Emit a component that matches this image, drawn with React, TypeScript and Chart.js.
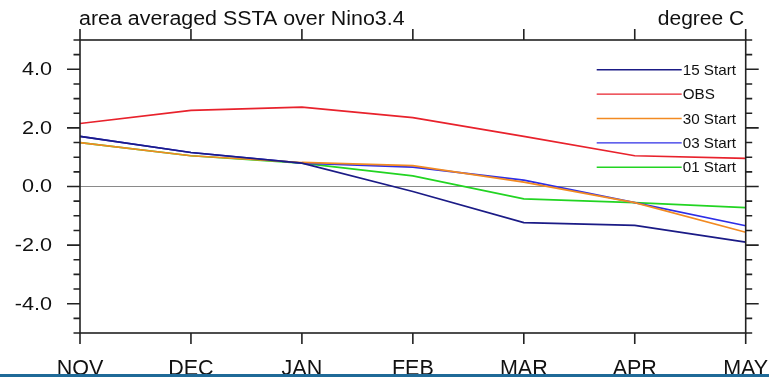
import React, { useEffect, useRef } from "react";
import { Chart, registerables } from "chart.js";

Chart.register(...registerables);

const months = ["NOV", "DEC", "JAN", "FEB", "MAR", "APR", "MAY"];
const start15 = [1.71, 1.16, 0.8, -0.17, -1.23, -1.33, -1.9];
const obs = [2.15, 2.6, 2.71, 2.35, 1.71, 1.05, 0.96];
const start30 = [1.5, 1.05, 0.82, 0.71, 0.15, -0.55, -1.56];
const start03 = [1.71, 1.16, 0.8, 0.66, 0.22, -0.55, -1.34];
const start01 = [1.5, 1.05, 0.8, 0.36, -0.42, -0.55, -0.72];
const yMajorTicks = [-4, -2, 0, 2, 4];
const yMinorStep = 0.5;
const yMin = -5;
const yMax = 5;
const titleLeft = "area averaged SSTA over Nino3.4";
const titleRight = "degree C";

const FONT = "'Liberation Sans', Arial, Helvetica, sans-serif";
const AXIS_COLOR = "#222";

function stretchText(ctx: CanvasRenderingContext2D, text: string, x: number, y: number, sx: number, align: "left" | "right" | "center") {
  const w = ctx.measureText(text).width * sx;
  let left = x;
  if (align === "right") left = x - w;
  else if (align === "center") left = x - w / 2;
  ctx.save();
  ctx.translate(left, y);
  ctx.scale(sx, 1);
  ctx.textAlign = "left";
  ctx.fillText(text, 0, 0);
  ctx.restore();
}

const framePlugin = {
  id: "ncl-frame",
  beforeDatasetsDraw(chart: any) {
    const { ctx, chartArea } = chart;
    const ys = chart.scales.y;
    const y0 = ys.getPixelForValue(0);
    ctx.save();
    ctx.strokeStyle = "#8a8a8a";
    ctx.lineWidth = 1.2;
    ctx.beginPath();
    ctx.moveTo(chartArea.left, y0);
    ctx.lineTo(chartArea.right, y0);
    ctx.stroke();
    ctx.restore();
  },
  afterDraw(chart: any) {
    const { ctx, chartArea } = chart;
    const xs = chart.scales.x;
    const ys = chart.scales.y;
    const L = chartArea.left, R = chartArea.right, T = chartArea.top, B = chartArea.bottom;
    ctx.save();
    ctx.strokeStyle = AXIS_COLOR;
    ctx.lineWidth = 1.6;
    ctx.strokeRect(L, T, R - L, B - T);
    ctx.beginPath();
    for (let v = yMin; v <= yMax + 1e-9; v += yMinorStep) {
      const py = ys.getPixelForValue(v);
      const major = yMajorTicks.some((m) => Math.abs(m - v) < 1e-9);
      const len = major ? 13 : 6.5;
      ctx.moveTo(L - len, py);
      ctx.lineTo(L, py);
      ctx.moveTo(R, py);
      ctx.lineTo(R + len, py);
    }
    months.forEach((_, i) => {
      const px = xs.getPixelForValue(i);
      ctx.moveTo(px, T);
      ctx.lineTo(px, T - 11);
      ctx.moveTo(px, B);
      ctx.lineTo(px, B + 11);
    });
    ctx.stroke();

    ctx.fillStyle = "#111";
    ctx.textBaseline = "middle";
    ctx.font = `18px ${FONT}`;
    yMajorTicks.forEach((v) => {
      stretchText(ctx, v.toFixed(1), L - 28, ys.getPixelForValue(v) + 1, 1.2, "right");
    });
    ctx.textBaseline = "alphabetic";
    ctx.font = `21.5px ${FONT}`;
    months.forEach((m, i) => {
      stretchText(ctx, m, xs.getPixelForValue(i), 375, 1.0, "center");
    });
    ctx.font = `20px ${FONT}`;
    stretchText(ctx, titleLeft, L - 1, 25, 1.07, "left");
    stretchText(ctx, titleRight, R - 1.5, 24.5, 1.05, "right");

    const datasets = chart.data.datasets;
    ctx.font = `14.5px ${FONT}`;
    ctx.textBaseline = "middle";
    datasets.forEach((ds: any, i: number) => {
      const py = T + 29.7 + i * 24.4;
      ctx.strokeStyle = ds.borderColor;
      ctx.lineWidth = 1.4;
      ctx.beginPath();
      ctx.moveTo(R - 149, py);
      ctx.lineTo(R - 64, py);
      ctx.stroke();
      ctx.fillStyle = "#111";
      stretchText(ctx, ds.label, R - 63, py + 1, 1.05, "left");
    });

    ctx.fillStyle = "#1f6a98";
    ctx.fillRect(0, 374, chart.width, 3);
    ctx.restore();
  },
};

export default function App() {
  const ref = useRef<HTMLCanvasElement | null>(null);
  useEffect(() => {
    document.body.style.margin = "0";
    const canvas = ref.current!;
    const mk = (label: string, data: number[], color: string) => ({
      label,
      data,
      borderColor: color,
      backgroundColor: color,
      borderWidth: 1.7,
      pointRadius: 0,
      tension: 0,
      fill: false,
    });
    const chart = new Chart(canvas, {
      type: "line",
      data: {
        labels: months,
        datasets: [
          mk("15 Start", start15, "#1b1b86"),
          mk("OBS", obs, "#e8222c"),
          mk("30 Start", start30, "#f28a22"),
          mk("03 Start", start03, "#2e2ee6"),
          mk("01 Start", start01, "#22d422"),
        ],
      },
      options: {
        responsive: false,
        animation: false,
        layout: { padding: { left: 80, right: 23.3, top: 40, bottom: 44 } },
        plugins: { legend: { display: false }, tooltip: { enabled: false }, title: { display: false } },
        scales: {
          x: { type: "category", display: false, offset: false },
          y: { type: "linear", display: false, min: yMin, max: yMax },
        },
      },
      plugins: [framePlugin],
    });
    return () => chart.destroy();
  }, []);
  return (
    <div style={{ position: "fixed", left: 0, top: 0, width: 769, height: 377, background: "#fff" }}>
      <canvas ref={ref} width={769} height={377} style={{ width: 769, height: 377 }} />
    </div>
  );
}
